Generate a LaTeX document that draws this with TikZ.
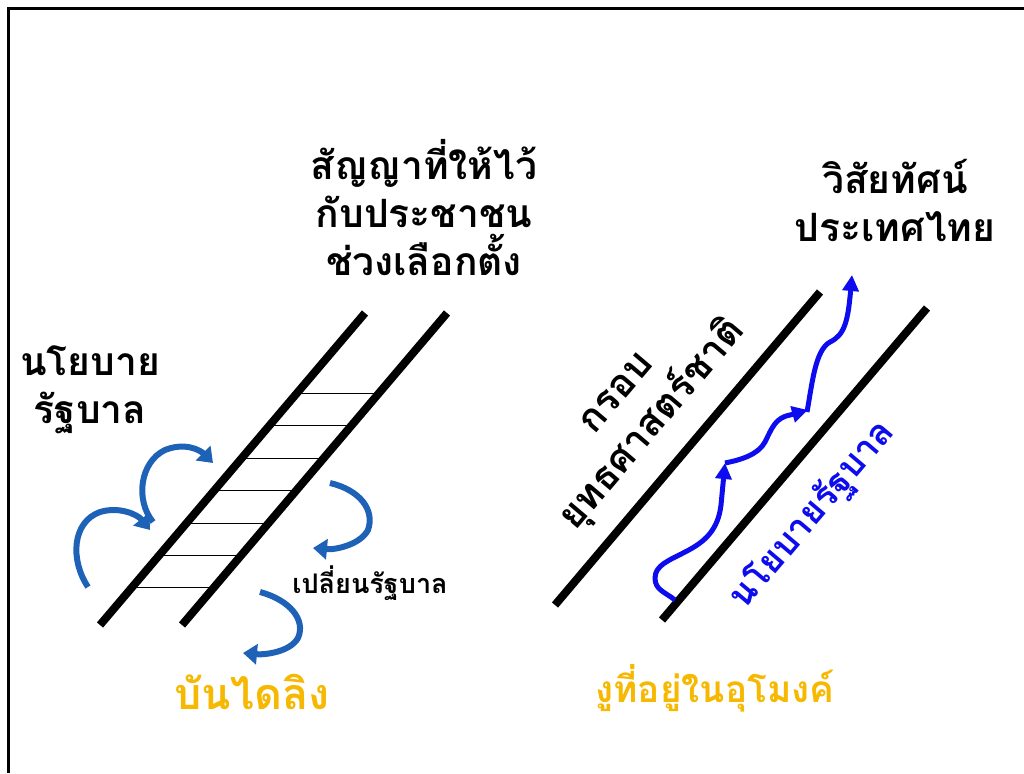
\documentclass[tikz,border=0pt]{standalone}
\usepackage{fontspec}
\newfontfamily\thai[Script=Thai]{Loma}
\usetikzlibrary{arrows.meta,calc}
\definecolor{ribbonblue}{RGB}{30,98,184}
\definecolor{snakeblue}{RGB}{12,12,238}
\definecolor{titleyellow}{RGB}{246,184,0}
\tikzset{
	thaitext/.style={font=\thai\bfseries\fontsize{39}{48}\selectfont, align=center, inner sep=0},
	smalltext/.style={font=\thai\bfseries\fontsize{27}{30}\selectfont, inner sep=0},
	titletext/.style={font=\thai\fontsize{43}{50}\selectfont\bfseries, text=titleyellow, inner sep=0},
	rail/.style={line width=8},
	rung/.style={line width=0.8},
	ribbon/.style={line width=6, ribbonblue, -{Triangle[width=20, length=14]}},
	snakeline/.style={line width=5, snakeblue, line join=round, -{Triangle[width=16, length=16]}},
}
\begin{document}
\begin{tikzpicture}[x=1pt, y=-1pt]
	\useasboundingbox (0,0) rectangle (1024,773);
	%frame
	\draw[line width=3] (8,773)--(8,9)--(1024,9);
	%ladder
	\path (100,625) coordinate (L1b);
	\path (365,313) coordinate (L1t);
	\path (182,625) coordinate (L2b);
	\path (447,313) coordinate (L2t);
	\draw[rail] (L1b)--(L1t);
	\draw[rail] (L2b)--(L2t);
	\foreach \i in {0,...,6}
		\draw[rung] ($(L1b)!{0.119+0.104*\i}!(L1t)$)--($(L2b)!{0.119+0.104*\i}!(L2t)$);
	%ladder texts
	\draw (424,208) node (promise) [thaitext]{สัญญาที่ให้ไว้\\กับประชาชน\\ช่วงเลือกตั้ง};
	\draw (90,390) node (policy) [thaitext]{นโยบาย\\รัฐบาล};
	\draw (370,583) node (change) [smalltext]{เปลี่ยนรัฐบาล};
	%ribbon arrows
	\draw[ribbon] (88,587) .. controls (70,560) and (72,522) .. (100,512) .. controls (120,506) and (138,515) .. (150,530);
	\draw[ribbon] (153,522) .. controls (135,500) and (140,462) .. (165,450) .. controls (185,442) and (200,450) .. (213,463);
	\draw[ribbon] (330,483) .. controls (360,490) and (375,510) .. (368,530) .. controls (360,545) and (335,550) .. (313,548);
	\draw[ribbon] (260,592) .. controls (290,600) and (306,620) .. (298,638) .. controls (290,652) and (265,655) .. (243,653);
	%tunnel
	\path (555,605) coordinate (T1b);
	\path (820,292) coordinate (T1t);
	\path (662,620) coordinate (T2b);
	\path (927,308) coordinate (T2t);
	\draw[rail] (T1b)--(T1t);
	\draw[rail] (T2b)--(T2t);
	%tunnel texts
	\draw (895,200) node (vision) [thaitext]{วิสัยทัศน์\\ประเทศไทย};
	\draw (638,412) node (strategy) [thaitext, rotate=49.7]{กรอบ\\ยุทธศาสตร์ชาติ};
	\draw (813,515) node (govpolicy) [thaitext, text=snakeblue, rotate=49.7, font=\thai\bfseries\fontsize{36}{40}\selectfont]{นโยบายรัฐบาล};
	%snake
	\draw[snakeline] (675,600) .. controls (665,592) and (655,590) .. (655,578) .. controls (655,565) and (670,560) .. (685,552) .. controls (705,542) and (718,530) .. (721,505) -- (725,463);
	\draw[snakeline] (725,463) .. controls (740,460) and (758,455) .. (765,442) .. controls (772,428) and (775,418) .. (790,415) -- (808,410);
	\draw[snakeline] (807,412) .. controls (812,385) and (815,350) .. (830,342) .. controls (845,335) and (848,320) .. (852,275);
	%titles
	\draw (252,692) node (laddertitle) [titletext]{บันไดลิง};
	\draw (715,688) node (snaketitle) [titletext, scale=0.86]{งูที่อยู่ในอุโมงค์};
\end{tikzpicture}
\end{document}
